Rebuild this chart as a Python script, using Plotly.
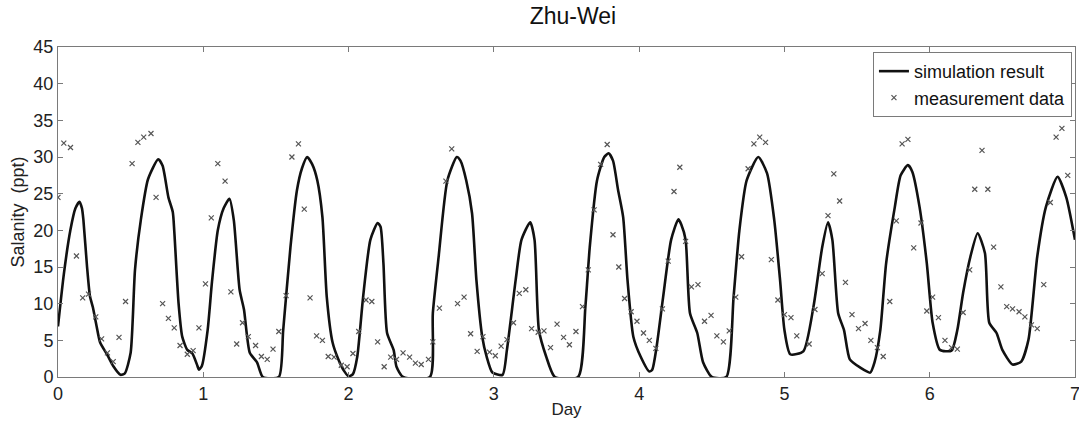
import plotly.graph_objects as go

# Simulated salinity (ppt) vs. day
sim_day = [0.0, 0.04, 0.085, 0.12, 0.148, 0.165, 0.175, 0.20, 0.22, 0.24, 0.265, 0.29, 0.34, 0.38, 0.43, 0.46,
           0.50, 0.53, 0.57, 0.62, 0.69, 0.72, 0.76, 0.79, 0.80, 0.83, 0.855, 0.89, 0.925, 0.96, 0.97, 0.99,
           1.03, 1.06, 1.10, 1.14, 1.18, 1.21, 1.25, 1.28, 1.32, 1.37, 1.41, 1.52, 1.55, 1.60, 1.645, 1.68,
           1.715, 1.75, 1.785, 1.82, 1.85, 1.89, 1.93, 1.97, 2.0, 2.03, 2.06, 2.10, 2.15, 2.20, 2.22, 2.24,
           2.265, 2.31, 2.33, 2.375, 2.56, 2.58, 2.62, 2.68, 2.745, 2.77, 2.81, 2.85, 2.88, 2.92, 2.95, 2.99,
           3.06, 3.09, 3.15, 3.19, 3.25, 3.28, 3.31, 3.36, 3.42, 3.58, 3.63, 3.66, 3.71, 3.76, 3.79, 3.82,
           3.855, 3.89, 3.92, 3.96, 4.01, 4.07, 4.09, 4.12, 4.165, 4.22, 4.27, 4.29, 4.32, 4.35, 4.40, 4.44,
           4.50, 4.60, 4.65, 4.69, 4.74, 4.82, 4.88, 4.93, 4.97, 5.0, 5.04, 5.13, 5.20, 5.26, 5.30, 5.33,
           5.37, 5.41, 5.45, 5.52, 5.59, 5.62, 5.66, 5.70, 5.76, 5.80, 5.85, 5.88, 5.93, 5.98, 6.02, 6.07,
           6.15, 6.19, 6.23, 6.28, 6.33, 6.38, 6.41, 6.46, 6.50, 6.57, 6.63, 6.68, 6.74, 6.80, 6.88, 6.94, 7.0]
sim_sal = [6.9, 14.0, 20.0, 23.0, 23.9, 23.0, 21.4, 15.0, 11.0, 9.5, 7.0, 4.7, 3.0, 1.5, 0.3, 0.5,
           3.3, 14.6, 21.4, 27.0, 29.7, 28.8, 24.5, 22.5, 20.0, 10.0, 5.5, 3.7, 3.2, 1.5, 1.0, 1.5,
           6.4, 13.0, 20.0, 23.0, 24.3, 21.4, 11.9, 9.2, 3.3, 2.0, 0.0, 0.0, 6.4, 17.7, 25.5, 28.5,
           30.0, 29.0, 26.8, 21.8, 10.9, 4.7, 2.4, 0.8, 0.1, 0.4, 2.8, 10.9, 18.7, 21.0, 20.5, 15.5,
           6.0, 3.7, 1.4, 0.0, 0.0, 8.7, 16.4, 26.8, 30.0, 29.5, 26.8, 22.3, 13.2, 5.5, 2.8, 0.6,
           0.3, 3.7, 13.2, 18.7, 21.1, 18.7, 6.4, 2.8, 0.0, 0.0, 9.6, 17.7, 26.8, 30.0, 30.5, 29.5,
           25.5, 21.8, 13.2, 5.5, 2.8, 0.75, 1.0, 4.1, 10.9, 18.7, 21.5, 20.8, 18.7, 8.7, 6.0, 2.0,
           0.0, 0.0, 10.9, 20.0, 26.8, 30.0, 27.8, 21.4, 13.2, 6.4, 3.1, 3.5, 9.6, 17.7, 21.1, 18.7,
           8.7, 6.4, 2.4, 1.3, 0.6, 2.0, 6.4, 15.5, 23.2, 27.5, 28.9, 28.0, 23.2, 15.5, 7.4, 3.7,
           3.6, 6.4, 11.5, 16.4, 19.6, 16.9, 7.4, 6.0, 3.7, 1.7, 2.1, 5.1, 16.4, 23.2, 27.3, 24.5, 18.7]

# Measured salinity (ppt) vs. day
obs_day = [0.0, 0.04, 0.086, 0.127, 0.17, 0.21, 0.26, 0.30, 0.34, 0.38, 0.42, 0.465, 0.51, 0.55, 0.59, 0.64,
           0.675, 0.72, 0.76, 0.80, 0.84, 0.89, 0.93, 0.97, 1.015, 1.055, 1.10, 1.15, 1.19, 1.23, 1.27, 1.31,
           1.36, 1.40, 1.44, 1.48, 1.52, 1.57, 1.61, 1.655, 1.695, 1.735, 1.78, 1.82, 1.86, 1.90, 1.95, 1.99,
           2.03, 2.07, 2.12, 2.16, 2.20, 2.245, 2.29, 2.33, 2.375, 2.42, 2.46, 2.50, 2.55, 2.58, 2.625, 2.67,
           2.71, 2.75, 2.795, 2.84, 2.885, 2.925, 2.97, 3.01, 3.05, 3.09, 3.135, 3.175, 3.22, 3.26, 3.305, 3.345,
           3.39, 3.435, 3.48, 3.52, 3.565, 3.61, 3.65, 3.69, 3.735, 3.78, 3.82, 3.86, 3.90, 3.945, 3.985, 4.03,
           4.07, 4.115, 4.16, 4.20, 4.24, 4.28, 4.32, 4.36, 4.405, 4.45, 4.495, 4.535, 4.58, 4.62, 4.665, 4.705,
           4.75, 4.79, 4.83, 4.87, 4.91, 4.955, 5.0, 5.045, 5.085, 5.17, 5.21, 5.26, 5.30, 5.34, 5.38, 5.42,
           5.465, 5.51, 5.555, 5.595, 5.64, 5.68, 5.725, 5.77, 5.81, 5.85, 5.89, 5.94, 5.98, 6.02, 6.06, 6.105,
           6.15, 6.19, 6.23, 6.275, 6.31, 6.36, 6.40, 6.44, 6.49, 6.53, 6.57, 6.615, 6.655, 6.70, 6.74, 6.785,
           6.83, 6.87, 6.91, 6.95]
obs_sal = [24.5, 31.9, 31.3, 16.5, 10.8, 11.3, 8.2, 5.2, 3.3, 2.1, 5.4, 10.3, 29.1, 32.0, 32.7, 33.2,
           24.5, 10.0, 8.0, 6.7, 4.3, 3.1, 3.6, 6.7, 12.7, 21.7, 29.1, 26.7, 11.6, 4.5, 7.4, 5.5,
           4.3, 2.8, 2.4, 3.8, 6.2, 11.1, 30.0, 31.8, 22.9, 10.8, 5.6, 5.0, 2.8, 2.7, 1.6, 1.4,
           3.2, 6.2, 10.5, 10.3, 4.8, 1.4, 2.7, 2.4, 3.3, 2.7, 1.9, 1.7, 2.4, 4.8, 9.4, 26.7,
           31.1, 10.0, 10.9, 5.9, 3.5, 5.5, 3.4, 2.9, 4.2, 5.1, 7.4, 11.4, 11.9, 6.6, 6.1, 6.3,
           4.0, 7.2, 5.4, 4.4, 6.2, 9.6, 14.6, 22.8, 29.0, 31.7, 19.4, 15.0, 10.7, 8.9, 7.6, 6.0,
           5.0, 3.9, 9.3, 15.8, 25.3, 28.6, 18.5, 12.3, 12.6, 7.6, 8.4, 5.6, 4.8, 6.3, 10.9, 16.4,
           28.4, 31.8, 32.7, 32.0, 16.0, 10.5, 8.5, 8.1, 5.6, 4.5, 9.2, 14.1, 22.0, 27.7, 24.0, 12.9,
           8.5, 6.6, 7.3, 5.0, 4.0, 2.8, 10.3, 21.3, 31.8, 32.4, 17.6, 21.0, 9.0, 10.9, 8.1, 5.0,
           4.0, 3.8, 8.8, 14.6, 25.6, 30.9, 25.6, 17.7, 12.3, 9.6, 9.3, 8.9, 8.2, 7.1, 6.6, 12.6,
           23.8, 32.7, 33.9, 27.5]

x_ticks = [0, 1, 2, 3, 4, 5, 6, 7]
y_ticks = [0, 5, 10, 15, 20, 25, 30, 35, 40, 45]

FONT = "Liberation Sans, Arial, Helvetica, sans-serif"
AXIS_GREY = "#7a7a7a"

fig = go.Figure()
fig.add_trace(go.Scatter(
    x=sim_day, y=sim_sal, mode="lines", name="simulation result",
    line=dict(color="#111111", width=2.6, shape="spline", smoothing=0.6),
))
fig.add_trace(go.Scatter(
    x=obs_day, y=obs_sal, mode="markers", name="measurement data",
    marker=dict(symbol="x-thin", size=5, color="#555555", line=dict(width=1.2, color="#555555")),
))

axis_common = dict(
    showgrid=False, zeroline=False, showline=True, linecolor=AXIS_GREY, linewidth=1,
    mirror="ticks", ticks="inside", ticklen=5, tickcolor=AXIS_GREY,
    tickfont=dict(family=FONT, size=18, color="#222222"),
    ticklabeloverflow="allow", automargin=False,
)

fig.update_layout(
    width=1079, height=423,
    margin=dict(l=58, r=4, t=47, b=46),
    paper_bgcolor="white", plot_bgcolor="white",
    title=dict(text="Zhu-Wei", x=0.531, xanchor="center", y=0.982, yanchor="top",
               font=dict(family=FONT, size=23, color="#111111")),
    xaxis=dict(range=[0, 7], tickvals=x_ticks,
               title=dict(text="Day", standoff=0, font=dict(family=FONT, size=17, color="#222222")),
               **axis_common),
    yaxis=dict(range=[0, 45], tickvals=y_ticks,
               title=dict(text="Salanity  (ppt)", standoff=4, font=dict(family=FONT, size=18, color="#222222")),
               **axis_common),
    legend=dict(x=0.997, y=0.985, xanchor="right", yanchor="top",
                bgcolor="white", bordercolor=AXIS_GREY, borderwidth=1,
                font=dict(family=FONT, size=18, color="#111111"),
                tracegroupgap=0, itemwidth=30),
    showlegend=True,
)

fig.write_html("out.html")
